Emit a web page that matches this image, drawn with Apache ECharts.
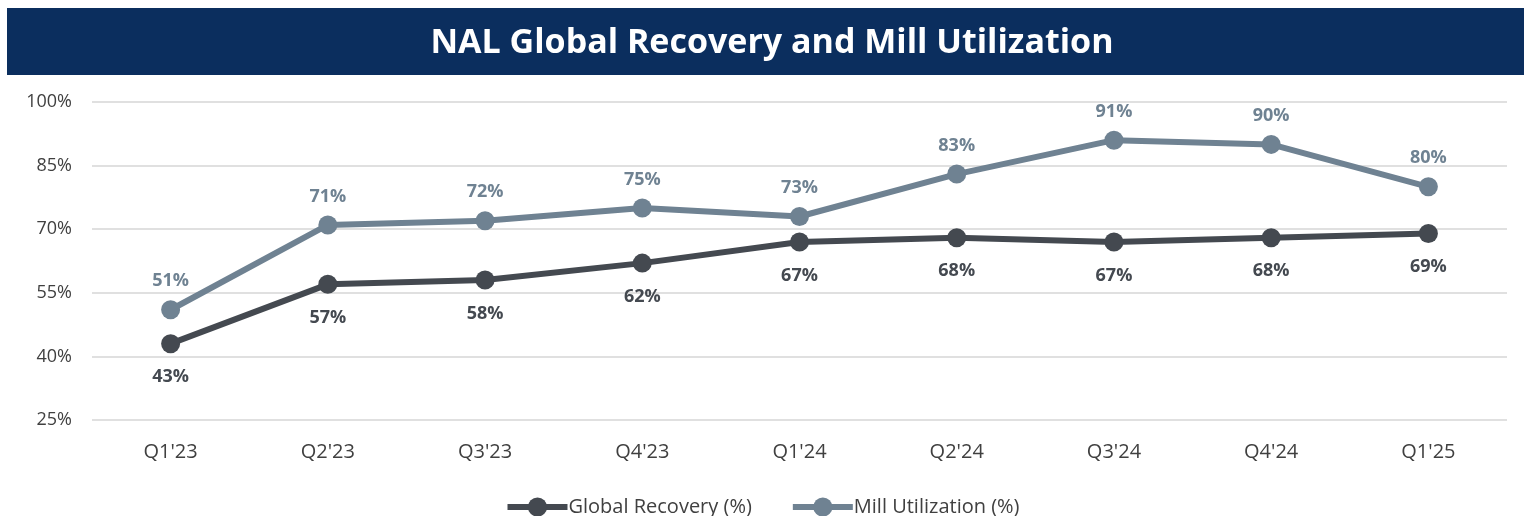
<!DOCTYPE html>
<html>
<head>
<meta charset="utf-8">
<script src="https://cdn.jsdelivr.net/npm/echarts@6/dist/echarts.min.js"></script>
<style>
  html, body { margin: 0; padding: 0; background: #fff; }
  #chart { width: 1524px; height: 516px; }
</style>
</head>
<body>
<div id="chart"></div>
<script>
// quarter labels
const quarters = ["Q1'23", "Q2'23", "Q3'23", "Q4'23", "Q1'24", "Q2'24", "Q3'24", "Q4'24", "Q1'25"]
// values in %
const globalRecovery = [43, 57, 58, 62, 67, 68, 67, 68, 69]
const millUtilization = [51, 71, 72, 75, 73, 83, 91, 90, 80]

const fontFam = '"Open Sans", "Noto Sans", sans-serif'
const darkCol = '#444950'
const lightCol = '#6F8292'

const myChart = echarts.init(document.getElementById('chart'))
const option = {
  animation: false,
  graphic: [
    {
      type: 'rect',
      shape: { x: 7, y: 8, width: 1517, height: 67 },
      style: { fill: '#0B2E5E' }
    },
    {
      type: 'text',
      x: 772,
      y: 43,
      style: {
        text: 'NAL Global Recovery and Mill Utilization',
        fill: '#fff',
        font: 'bold 34px ' + fontFam,
        align: 'center',
        verticalAlign: 'middle'
      }
    }
  ],
  legend: {
    top: 492,
    left: 'center',
    itemGap: 38,
    itemWidth: 60,
    itemHeight: 24,
    lineStyle: { width: 6 },
    textStyle: { color: '#404040', fontSize: 20, fontFamily: fontFam, padding: [0, 0, 0, -4] },
    data: ['Global Recovery (%)', 'Mill Utilization (%)']
  },
  grid: {
    left: 92,
    right: 17,
    top: 102,
    bottom: 96,
    containLabel: false
  },
  xAxis: {
    type: 'category',
    data: quarters,
    boundaryGap: true,
    axisLine: { show: false },
    axisTick: { show: false },
    axisLabel: { color: '#404040', fontSize: 20, fontFamily: fontFam, margin: 22 }
  },
  yAxis: {
    type: 'value',
    min: 25,
    max: 100,
    interval: 15,
    axisLine: { show: false },
    axisTick: { show: false },
    splitLine: { lineStyle: { color: '#E0E0E0', width: 2 } },
    axisLabel: {
      formatter: '{value}%',
      color: '#404040',
      fontSize: 18,
      fontFamily: fontFam,
      margin: 20
    }
  },
  series: [
    {
      name: 'Global Recovery (%)',
      type: 'line',
      data: globalRecovery,
      symbol: 'circle',
      symbolSize: 19,
      lineStyle: { color: darkCol, width: 6 },
      itemStyle: { color: darkCol },
      label: {
        show: true,
        position: 'bottom',
        distance: 15,
        formatter: '{c}%',
        color: darkCol,
        fontWeight: 'bold',
        fontSize: 18,
        fontFamily: fontFam
      }
    },
    {
      name: 'Mill Utilization (%)',
      type: 'line',
      data: millUtilization,
      symbol: 'circle',
      symbolSize: 19,
      lineStyle: { color: lightCol, width: 6 },
      itemStyle: { color: lightCol },
      label: {
        show: true,
        position: 'top',
        distance: 10,
        formatter: '{c}%',
        color: lightCol,
        fontWeight: 'bold',
        fontSize: 18,
        fontFamily: fontFam
      }
    }
  ]
}
myChart.setOption(option)
</script>
</body>
</html>
